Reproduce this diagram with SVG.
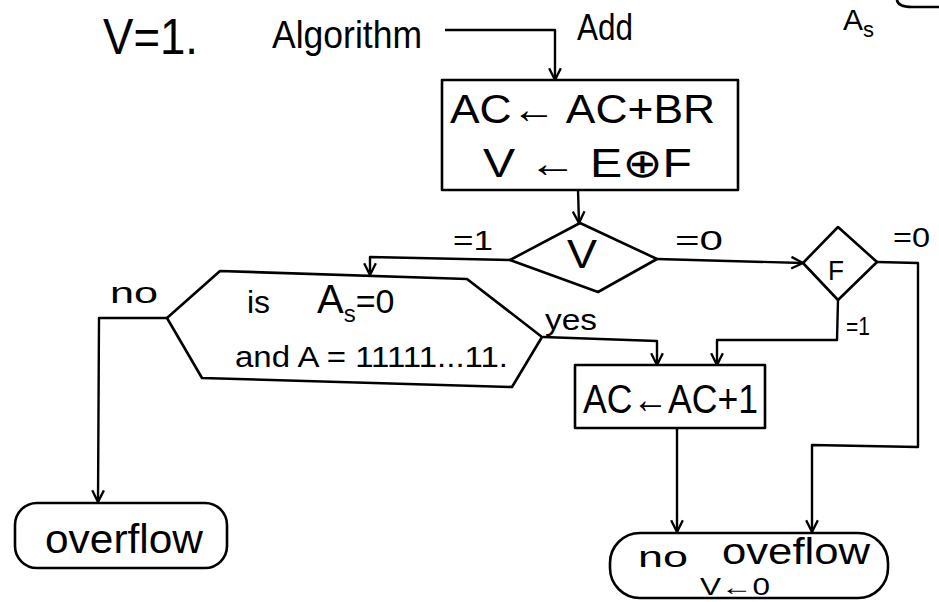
<svg xmlns="http://www.w3.org/2000/svg" width="939" height="602" viewBox="0 0 939 602">
<style>
.s{fill:none;stroke:#000;stroke-width:2.6;stroke-linejoin:round;stroke-linecap:round}
.c{fill:none;stroke:#000;stroke-width:2.4;stroke-linejoin:round}
text{font-family:"Liberation Sans","DejaVu Sans",sans-serif;fill:#000}
.t{font-size:40px}
.m{font-size:30px}
.l{font-size:28px}
</style>
<defs>
<marker id="ah" viewBox="0 0 12 12" refX="11" refY="6" markerWidth="14" markerHeight="14" markerUnits="userSpaceOnUse" orient="auto">
<path d="M1,1 L11,6 L1,11" fill="none" stroke="#000" stroke-width="2"/>
</marker>
</defs>
<rect width="939" height="602" fill="#fff"/>

<g id="title">
<text x="103" y="54" font-size="50" textLength="95" lengthAdjust="spacingAndGlyphs">V=1.</text>
<text x="272" y="48" font-size="38" textLength="150" lengthAdjust="spacingAndGlyphs">Algorithm</text>
<text x="577" y="40" font-size="36" textLength="56" lengthAdjust="spacingAndGlyphs">Add</text>
<text x="843" y="30" class="m">A<tspan font-size="22" dy="7">s</tspan></text>
<path class="s" d="M897,0 Q898,7 912,7 L939,7"/>
</g>

<g id="box-add">
<rect class="s" x="442" y="80" width="296" height="110"/>
<text x="450" y="123" class="t" textLength="265" lengthAdjust="spacingAndGlyphs">AC← AC+BR</text>
<text x="483" y="177" class="t" textLength="209" lengthAdjust="spacingAndGlyphs">V ← E⊕F</text>
</g>

<g id="dec-v">
<polygon class="s" points="510,260 580,223 657,259 598,292"/>
<text x="567" y="268" class="t" textLength="30" lengthAdjust="spacingAndGlyphs">V</text>
</g>

<g id="dec-f">
<polygon class="s" points="803,263 838,227 877,262 838,300"/>
<text x="828" y="280" class="l" textLength="16" lengthAdjust="spacingAndGlyphs">F</text>
</g>

<g id="dec-as">
<polygon class="s" points="220,271 467,279 542,337 512,387 202,378 167,318"/>
<text x="247" y="313" font-size="32">is<tspan x="317" font-size="40">A</tspan><tspan font-size="24" dy="9">s</tspan><tspan font-size="34" dy="-9">=0</tspan></text>
<text x="235" y="367" class="m" textLength="273" lengthAdjust="spacingAndGlyphs">and A = 11111...11.</text>
</g>

<g id="box-inc">
<rect class="s" x="575" y="365" width="190" height="63"/>
<text x="583" y="413" class="t" textLength="175" lengthAdjust="spacingAndGlyphs">AC←AC+1</text>
</g>

<g id="term-overflow">
<rect class="s" x="15" y="503" width="212" height="65" rx="22"/>
<text x="45" y="553" class="t" textLength="158" lengthAdjust="spacingAndGlyphs">overflow</text>
</g>

<g id="term-nooverflow">
<rect class="s" x="610" y="533" width="278" height="65" rx="30"/>
<text x="638" y="567" class="m" textLength="50" lengthAdjust="spacingAndGlyphs">no</text>
<text x="722" y="564" font-size="36" textLength="148" lengthAdjust="spacingAndGlyphs">oveflow</text>
<text x="700" y="595" font-size="24" textLength="70" lengthAdjust="spacingAndGlyphs">V←0</text>
</g>

<g id="connectors">
<path class="c" d="M445,30 L555,30 L555,80" marker-end="url(#ah)"/>
<path class="c" d="M578,190 L579,223" marker-end="url(#ah)"/>
<path class="c" d="M510,260 L370,257 L370,275" marker-end="url(#ah)"/>
<path class="c" d="M657,259 L803,263" marker-end="url(#ah)"/>
<path class="c" d="M877,262 L918,263 L918,447 L812,445 L812,532" marker-end="url(#ah)"/>
<path class="c" d="M838,300 L837,340 L717,340 L717,365" marker-end="url(#ah)"/>
<path class="c" d="M543,337 L657,341 L657,365" marker-end="url(#ah)"/>
<path class="c" d="M167,318 L99,318 L98,502" marker-end="url(#ah)"/>
<path class="c" d="M677,428 L677,532" marker-end="url(#ah)"/>
</g>

<g id="labels">
<text x="453" y="250" class="l" textLength="40" lengthAdjust="spacingAndGlyphs">=1</text>
<text x="675" y="250" class="l" textLength="48" lengthAdjust="spacingAndGlyphs">=0</text>
<text x="893" y="247" class="l" textLength="37" lengthAdjust="spacingAndGlyphs">=0</text>
<text x="846" y="335" font-size="26" textLength="24" lengthAdjust="spacingAndGlyphs">=1</text>
<text x="545" y="330" class="m" textLength="52" lengthAdjust="spacingAndGlyphs">yes</text>
<text x="110" y="303" class="m" textLength="48" lengthAdjust="spacingAndGlyphs">no</text>
</g>
</svg>
